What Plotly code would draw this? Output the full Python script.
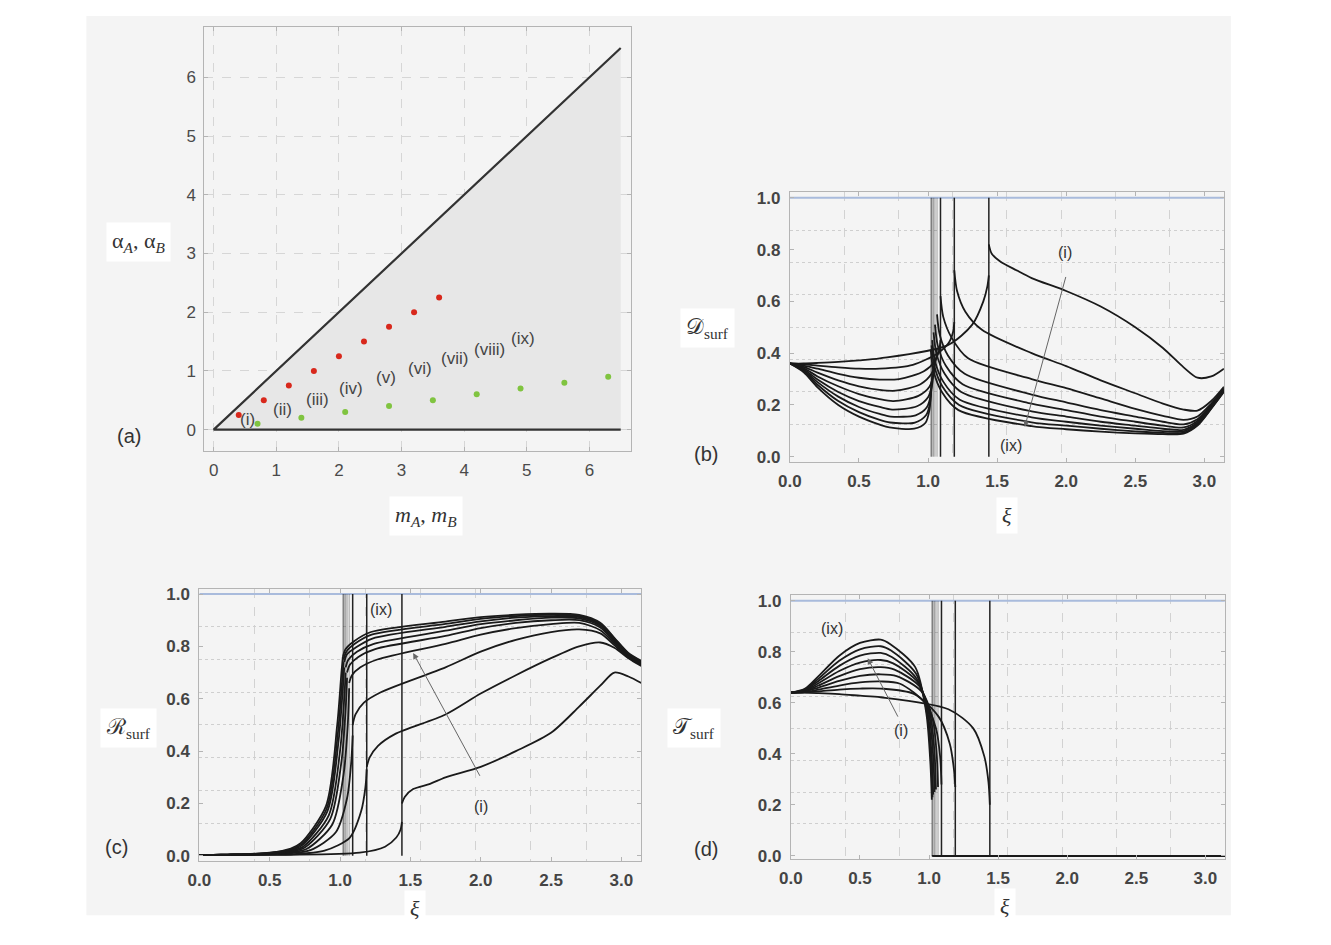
import numpy as np
import plotly.graph_objects as go

# page is 1331x945; the default 8px body margin is left in place
PAGE_W, PAGE_H, BODY_MARGIN = 1331, 945, 8
W, H = PAGE_W - 2 * BODY_MARGIN, PAGE_H - 2 * BODY_MARGIN

# ---- panel (a): parameter plane ----
TRI_M = [0.0, 6.5, 6.5]
TRI_ALPHA = [0.0, 6.5, 0.0]
RED_M = [0.4, 0.8, 1.2, 1.6, 2.0, 2.4, 2.8, 3.2, 3.6]
RED_ALPHA = [0.25, 0.5, 0.75, 1.0, 1.25, 1.5, 1.75, 2.0, 2.25]
GREEN_M = [0.7, 1.4, 2.1, 2.8, 3.5, 4.2, 4.9, 5.6, 6.3]
GREEN_ALPHA = [0.1, 0.2, 0.3, 0.4, 0.5, 0.6, 0.7, 0.8, 0.9]
CASES = ["(i)", "(ii)", "(iii)", "(iv)", "(v)", "(vi)", "(vii)", "(viii)", "(ix)"]
CASE_M = [0.54, 1.10, 1.65, 2.19, 2.75, 3.29, 3.85, 4.40, 4.94]
CASE_ALPHA = [0.17, 0.34, 0.51, 0.70, 0.88, 1.04, 1.21, 1.37, 1.56]

# ---- panels (b)-(d): coefficients vs xi, cases (i)..(ix) ----
XI_C = [1.44, 1.19, 1.09, 1.065, 1.05, 1.04, 1.03, 1.025, 1.02]   # cut-off of each case
XI_LEFT = [0.0, 0.1, 0.2, 0.35, 0.5, 0.65]
LEFT_OFFSETS = [-0.3, -0.12, -0.04, -0.01, 0.0]     # relative to cut-off
RIGHT_OFFSETS = [0.0, 0.02, 0.08, 0.2]              # relative to cut-off
XI_RIGHT = [1.75, 2.0, 2.25, 2.5, 2.7, 2.85, 2.95, 3.05, np.pi]
XI_MAX = np.pi
UNITY = [1.0, 1.0]
CUTOFF_SPAN = [0.0, 1.0]
T_BEYOND = [0.0, 0.0]

D_LEFT = [
    [0.36, 0.36, 0.362, 0.366, 0.372, 0.38, 0.43, 0.51, 0.60, 0.66, 0.70],
    [0.36, 0.357, 0.352, 0.345, 0.34, 0.34, 0.355, 0.40, 0.44, 0.48, 0.52],
    [0.36, 0.352, 0.34, 0.32, 0.305, 0.298, 0.30, 0.33, 0.37, 0.41, 0.45],
    [0.36, 0.347, 0.325, 0.295, 0.272, 0.258, 0.255, 0.28, 0.32, 0.37, 0.42],
    [0.36, 0.342, 0.31, 0.272, 0.242, 0.222, 0.215, 0.235, 0.27, 0.32, 0.38],
    [0.36, 0.338, 0.298, 0.25, 0.215, 0.192, 0.182, 0.195, 0.23, 0.28, 0.35],
    [0.36, 0.334, 0.288, 0.232, 0.192, 0.165, 0.155, 0.16, 0.19, 0.24, 0.32],
    [0.36, 0.33, 0.278, 0.215, 0.172, 0.142, 0.132, 0.132, 0.16, 0.21, 0.29],
    [0.36, 0.326, 0.268, 0.20, 0.155, 0.124, 0.113, 0.108, 0.13, 0.18, 0.26],
]
D_RIGHT = [
    [0.82, 0.785, 0.755, 0.72, 0.69, 0.64, 0.58, 0.50, 0.42, 0.345, 0.305, 0.31, 0.34],
    [0.72, 0.64, 0.56, 0.49, 0.40, 0.35, 0.295, 0.245, 0.205, 0.182, 0.178, 0.215, 0.27],
    [0.62, 0.54, 0.46, 0.38, 0.30, 0.265, 0.225, 0.185, 0.158, 0.142, 0.155, 0.205, 0.265],
    [0.55, 0.47, 0.39, 0.32, 0.24, 0.21, 0.18, 0.155, 0.135, 0.125, 0.145, 0.20, 0.26],
    [0.51, 0.43, 0.35, 0.28, 0.205, 0.18, 0.155, 0.135, 0.12, 0.113, 0.138, 0.197, 0.258],
    [0.48, 0.40, 0.32, 0.25, 0.175, 0.155, 0.135, 0.12, 0.108, 0.104, 0.132, 0.194, 0.256],
    [0.45, 0.37, 0.29, 0.22, 0.152, 0.135, 0.12, 0.108, 0.099, 0.098, 0.127, 0.19, 0.254],
    [0.43, 0.35, 0.27, 0.20, 0.133, 0.12, 0.108, 0.098, 0.092, 0.093, 0.123, 0.187, 0.252],
    [0.41, 0.33, 0.25, 0.18, 0.118, 0.106, 0.097, 0.09, 0.087, 0.089, 0.12, 0.185, 0.25],
]
R_LEFT = [
    [0.004, 0.004, 0.004, 0.004, 0.004, 0.004, 0.012, 0.035, 0.07, 0.10, 0.13],
    [0.004, 0.004, 0.004, 0.004, 0.005, 0.006, 0.02, 0.07, 0.17, 0.26, 0.33],
    [0.004, 0.004, 0.004, 0.005, 0.006, 0.010, 0.022, 0.09, 0.22, 0.36, 0.46],
    [0.004, 0.004, 0.004, 0.005, 0.007, 0.013, 0.027, 0.12, 0.31, 0.50, 0.64],
    [0.004, 0.004, 0.004, 0.006, 0.008, 0.016, 0.032, 0.14, 0.36, 0.56, 0.68],
    [0.004, 0.004, 0.005, 0.006, 0.009, 0.019, 0.036, 0.155, 0.40, 0.60, 0.70],
    [0.004, 0.004, 0.005, 0.006, 0.010, 0.022, 0.040, 0.17, 0.44, 0.64, 0.72],
    [0.004, 0.004, 0.005, 0.007, 0.011, 0.025, 0.044, 0.18, 0.47, 0.67, 0.74],
    [0.004, 0.004, 0.005, 0.007, 0.012, 0.028, 0.048, 0.19, 0.50, 0.70, 0.76],
]
R_RIGHT = [
    [0.20, 0.225, 0.255, 0.275, 0.30, 0.34, 0.40, 0.47, 0.57, 0.65, 0.70, 0.685, 0.66],
    [0.34, 0.375, 0.42, 0.465, 0.54, 0.62, 0.69, 0.755, 0.80, 0.815, 0.795, 0.755, 0.725],
    [0.50, 0.54, 0.585, 0.625, 0.72, 0.78, 0.825, 0.855, 0.865, 0.85, 0.805, 0.757, 0.73],
    [0.66, 0.69, 0.72, 0.75, 0.81, 0.845, 0.87, 0.885, 0.89, 0.862, 0.812, 0.76, 0.732],
    [0.70, 0.73, 0.76, 0.79, 0.84, 0.87, 0.89, 0.90, 0.90, 0.872, 0.818, 0.764, 0.735],
    [0.72, 0.75, 0.78, 0.81, 0.86, 0.885, 0.90, 0.91, 0.907, 0.878, 0.822, 0.767, 0.737],
    [0.74, 0.77, 0.795, 0.83, 0.875, 0.896, 0.91, 0.916, 0.912, 0.883, 0.826, 0.77, 0.74],
    [0.75, 0.78, 0.81, 0.845, 0.886, 0.905, 0.916, 0.921, 0.916, 0.887, 0.83, 0.772, 0.742],
    [0.76, 0.79, 0.82, 0.855, 0.895, 0.912, 0.921, 0.925, 0.92, 0.89, 0.833, 0.775, 0.745],
]
T_LEFT = [
    [0.64, 0.64, 0.638, 0.634, 0.628, 0.622, 0.575, 0.50, 0.39, 0.29, 0.20],
    [0.64, 0.641, 0.645, 0.652, 0.656, 0.656, 0.635, 0.545, 0.44, 0.34, 0.27],
    [0.64, 0.642, 0.652, 0.668, 0.68, 0.684, 0.675, 0.60, 0.50, 0.39, 0.28],
    [0.64, 0.644, 0.66, 0.686, 0.706, 0.712, 0.705, 0.645, 0.54, 0.40, 0.27],
    [0.64, 0.646, 0.668, 0.705, 0.732, 0.74, 0.73, 0.665, 0.55, 0.40, 0.26],
    [0.64, 0.648, 0.677, 0.725, 0.758, 0.768, 0.755, 0.68, 0.555, 0.39, 0.25],
    [0.64, 0.65, 0.686, 0.745, 0.785, 0.796, 0.78, 0.695, 0.56, 0.38, 0.24],
    [0.64, 0.652, 0.695, 0.765, 0.81, 0.822, 0.805, 0.715, 0.56, 0.37, 0.23],
    [0.64, 0.655, 0.705, 0.785, 0.835, 0.848, 0.83, 0.74, 0.56, 0.36, 0.22],
]

INK = "#1a1a1a"
TICK_FONT = dict(family="Liberation Sans, Arial, sans-serif", size=17, color="#444444",
                 weight="bold")
LABEL_FONT = dict(family="Liberation Sans, Arial, sans-serif", size=16, color="#333333")
MATH_FONT = dict(family="Liberation Serif, DejaVu Serif, serif", size=22, color="#333333")


def px(x, y):
    """Page pixel -> paper fraction."""
    return (x - BODY_MARGIN) / W, 1 - (y - BODY_MARGIN) / H


def xdom(x0, x1):
    return [px(x0, 0)[0], px(x1, 0)[0]]


def ydom(y_bottom, y_top):
    return [px(0, y_bottom)[1], px(0, y_top)[1]]


fig = go.Figure()

# panel (a)
fig.add_trace(go.Scatter(x=TRI_M, y=TRI_ALPHA, fill="toself", fillcolor="#e7e7e7",
                         mode="lines", line=dict(width=0), xaxis="x", yaxis="y",
                         hoverinfo="skip"))
fig.add_trace(go.Scatter(x=[TRI_M[1], TRI_M[0], TRI_M[2]],
                         y=[TRI_ALPHA[1], TRI_ALPHA[0], TRI_ALPHA[2]],
                         mode="lines", line=dict(color="#333333", width=2.2),
                         xaxis="x", yaxis="y"))
fig.add_trace(go.Scatter(x=RED_M, y=RED_ALPHA, mode="markers",
                         marker=dict(color="#d8281c", size=6), xaxis="x", yaxis="y"))
fig.add_trace(go.Scatter(x=GREEN_M, y=GREEN_ALPHA, mode="markers",
                         marker=dict(color="#80c440", size=6), xaxis="x", yaxis="y"))

# panels (b), (c), (d)
panels = [("x2", "y2", D_LEFT, D_RIGHT), ("x3", "y3", R_LEFT, R_RIGHT), ("x4", "y4", T_LEFT, None)]
for xa, ya, left, right in panels:
    fig.add_trace(go.Scatter(x=[0, XI_MAX], y=UNITY, mode="lines",
                             line=dict(color="#a9bbdc", width=2), xaxis=xa, yaxis=ya))
    for k, xc in enumerate(XI_C):
        cluster = k >= 3
        fig.add_trace(go.Scatter(
            x=[xc, xc], y=CUTOFF_SPAN, mode="lines",
            line=dict(color="rgba(0,0,0,0.35)" if cluster else "#222222",
                      width=1.0 if cluster else 1.5),
            xaxis=xa, yaxis=ya))
    for k, xc in enumerate(XI_C):
        xl = XI_LEFT + [xc + o for o in LEFT_OFFSETS]
        fig.add_trace(go.Scatter(x=xl, y=left[k], mode="lines",
                                 line=dict(color=INK, width=1.8, shape="spline", smoothing=0.8),
                                 xaxis=xa, yaxis=ya))
        if right is not None:
            xr = [xc + o for o in RIGHT_OFFSETS] + XI_RIGHT
            fig.add_trace(go.Scatter(x=xr, y=right[k], mode="lines",
                                     line=dict(color=INK, width=1.8, shape="spline", smoothing=0.8),
                                     xaxis=xa, yaxis=ya))
        else:
            fig.add_trace(go.Scatter(x=[xc, XI_MAX], y=T_BEYOND, mode="lines",
                                     line=dict(color=INK, width=1.8), xaxis=xa, yaxis=ya))

fig.update_traces(showlegend=False)

# axes
frame = dict(showline=True, linecolor="#b4b4b4", linewidth=1, mirror="ticks",
             ticks="inside", ticklen=4, tickcolor="#b4b4b4", zeroline=False,
             tickfont=TICK_FONT)
xi_ticks = [0.0, 0.5, 1.0, 1.5, 2.0, 2.5, 3.0]
y_ticks = [0.0, 0.2, 0.4, 0.6, 0.8, 1.0]
xi_grid = [k * np.pi / 8 for k in range(1, 8)]
y_grid = [k / 8 for k in range(1, 8)]


def xi_axis(dom):
    return dict(frame, domain=dom, range=[0, XI_MAX], tickvals=xi_ticks,
                ticktext=[f"{v:.1f}" for v in xi_ticks], showgrid=False,
                ticklabelstandoff=4,
                minor=dict(tickvals=xi_grid, showgrid=True, gridcolor="#d2d2d2",
                           griddash="dash", gridwidth=1, ticks=""))


def coef_axis(dom, rng):
    return dict(frame, domain=dom, range=rng, tickvals=y_ticks,
                ticktext=[f"{v:.1f}" for v in y_ticks], showgrid=False,
                ticklabelstandoff=5,
                minor=dict(tickvals=y_grid, showgrid=True, gridcolor="#cfcfcf",
                           griddash="dot", gridwidth=1, ticks=""))


a_font = dict(family="Liberation Sans, Arial, sans-serif", size=17, color="#4a4a4a")
fig.update_layout(
    xaxis=dict(frame, domain=xdom(194, 625), range=[-0.15, 6.67], tickvals=list(range(7)),
               showgrid=True, gridcolor="#d6d6d6", griddash="dash", tickfont=a_font,
               ticklabelstandoff=4),
    yaxis=dict(frame, domain=ydom(452, 23), range=[-0.36, 6.86],
               tickvals=list(range(7)), showgrid=True, gridcolor="#d6d6d6", griddash="dash",
               tickfont=a_font, ticklabelstandoff=4),
    xaxis2=xi_axis(xdom(785, 1223)),
    yaxis2=coef_axis(ydom(463, 190), [-0.019, 1.023]),
    xaxis3=xi_axis(xdom(189, 635)),
    yaxis3=coef_axis(ydom(867, 592), [-0.019, 1.019]),
    xaxis4=xi_axis(xdom(786, 1224)),
    yaxis4=coef_axis(ydom(865, 598), [-0.012, 1.023]),
)
for i in (2, 3, 4):
    fig.layout[f"xaxis{i}"].anchor = f"y{i}"
    fig.layout[f"yaxis{i}"].anchor = f"x{i}"

centered = dict(xanchor="center", yanchor="middle", showarrow=False)
annotations = []
# case labels in (a)
for name, m, a in zip(CASES, CASE_M, CASE_ALPHA):
    annotations.append(dict(centered, x=m, y=a, xref="x", yref="y", text=name,
                            font=dict(LABEL_FONT, size=17, color="#444444")))

# arrows and end labels in (b)-(d)
ARROWS = [("x2", "y2", 1.70, 0.115, 2.0, 0.70),
          ("x3", "y3", 1.52, 0.775, 2.0, 0.30),
          ("x4", "y4", 0.556, 0.775, 0.78, 0.54)]
for xa, ya, x, y, ax, ay in ARROWS:
    annotations.append(dict(x=x, y=y, ax=ax, ay=ay, xref=xa, yref=ya, axref=xa, ayref=ya,
                            text="", showarrow=True, arrowhead=2, arrowsize=1.2,
                            arrowwidth=1, arrowcolor="#666666"))
END_LABELS = [("x2", "y2", "(i)", 1.99, 0.79), ("x2", "y2", "(ix)", 1.60, 0.045),
              ("x3", "y3", "(ix)", 1.29, 0.94), ("x3", "y3", "(i)", 2.0, 0.19),
              ("x4", "y4", "(ix)", 0.30, 0.89), ("x4", "y4", "(i)", 0.80, 0.49)]
for xa, ya, t, x, y in END_LABELS:
    annotations.append(dict(centered, x=x, y=y, xref=xa, yref=ya, text=t, font=LABEL_FONT))

# axis titles (white boxes) and panel letters
TITLES = [("α<sub><i>A</i></sub>, α<sub><i>B</i></sub>", 128, 241),
          ("<i>m</i><sub><i>A</i></sub>, <i>m</i><sub><i>B</i></sub>", 418, 518),
          ("𝒟<sub>surf</sub>", 702, 328),
          ("ℛ<sub>surf</sub>", 118, 733),
          ("𝒯<sub>surf</sub>", 688, 733),
          ("<i>ξ</i>", 1004, 518), ("<i>ξ</i>", 407, 915), ("<i>ξ</i>", 1002, 913)]
for t, x, y in TITLES:
    fx, fy = px(x, y)
    annotations.append(dict(centered, x=fx, y=fy, xref="paper", yref="paper", text=t,
                            font=MATH_FONT, bgcolor="white", borderpad=5))
LETTERS = [("(a)", 118, 437), ("(b)", 700, 455), ("(c)", 105, 853), ("(d)", 700, 855)]
for t, x, y in LETTERS:
    fx, fy = px(x, y)
    annotations.append(dict(centered, x=fx, y=fy, xref="paper", yref="paper", text=t,
                            font=dict(LABEL_FONT, size=20)))

bx0, by0 = px(75, 922)
bx1, by1 = px(1230, 12)
fig.update_layout(
    width=W, height=H, autosize=False,
    margin=dict(l=0, r=0, t=0, b=0),
    paper_bgcolor="white", plot_bgcolor="rgba(0,0,0,0)",
    showlegend=False,
    annotations=annotations,
    shapes=[dict(type="rect", xref="paper", yref="paper", x0=bx0, y0=by0, x1=bx1, y1=by1,
                 fillcolor="#f4f4f4", line=dict(width=0), layer="below")],
)

fig.write_html("out.html", config={"displayModeBar": False})
